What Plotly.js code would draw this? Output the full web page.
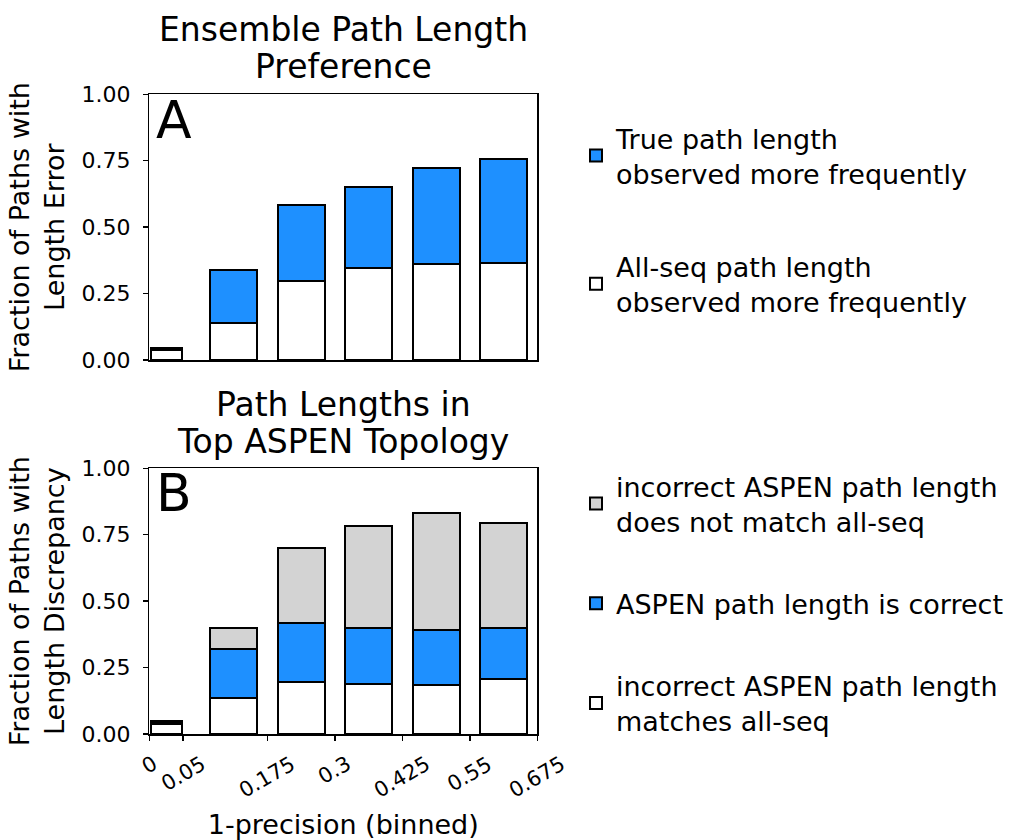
<!DOCTYPE html>
<html>
<head>
<meta charset="utf-8">
<script src="https://cdn.plot.ly/plotly-3.0.1.min.js"></script>
<style>html,body{margin:0;padding:0;background:#fff;}#chart{width:1014px;height:840px;}</style>
</head>
<body>
<div id="chart"></div>
<script>
// ---------------- data ----------------
const binLabels = ['0–0.05', '0.05–0.175', '0.175–0.3', '0.3–0.425', '0.425–0.55', '0.55–0.675'];
const edgeTickLabels = ['0', '0.05', '0.175', '0.3', '0.425', '0.55', '0.675'];

// Panel A: Ensemble Path Length Preference
const allSeqMoreFrequent = [0.038, 0.138, 0.297, 0.345, 0.362, 0.366];
const trueMoreFrequent   = [0.009, 0.200, 0.287, 0.308, 0.362, 0.391];

// Panel B: Path Lengths in Top ASPEN Topology
const incorrectMatches    = [0.038, 0.135, 0.195, 0.188, 0.186, 0.207];
const aspenCorrect        = [0.006, 0.185, 0.222, 0.212, 0.207, 0.191];
const incorrectNoMatch    = [0.004, 0.080, 0.283, 0.384, 0.438, 0.397];

const yTickVals = [0, 0.25, 0.5, 0.75, 1.0];

// ---------------- layout geometry ----------------
// the first bin is drawn narrow, the others are evenly spaced
const tickPos = [0, 0.5, 1.75, 2.75, 3.75, 4.75, 5.75];
const barX = binLabels.map((_, i) => i === 0 ? 0.253 : i + 0.252);
const barW = binLabels.map((_, i) => i === 0 ? 0.455 : 0.70);

const FONT = 'DejaVu Sans, Arial, sans-serif';
const BLUE = '#1e90ff', GRAY = '#d3d3d3', WHITE = '#ffffff';
const outline = {color: '#000', width: 2};

function bars(y, name, color, xa, ya, legend, rank) {
  return {
    type: 'bar', x: barX, y: y, width: barW, name: name,
    customdata: binLabels,
    hovertemplate: '%{customdata}: %{y:.3f}<extra>' + name.replace(/<br>/g, ' ') + '</extra>',
    marker: {color: color, line: outline},
    xaxis: xa, yaxis: ya, legend: legend, legendgroup: 'g' + rank + legend, legendrank: rank
  };
}

const traces = [
  bars(allSeqMoreFrequent, 'All-seq path length<br>observed more frequently', WHITE, 'x', 'y', 'legend', 2),
  bars(trueMoreFrequent, 'True path length<br>observed more frequently', BLUE, 'x', 'y', 'legend', 1),
  bars(incorrectMatches, 'incorrect ASPEN path length<br>matches all-seq', WHITE, 'x2', 'y2', 'legend2', 3),
  bars(aspenCorrect, 'ASPEN path length is correct', BLUE, 'x2', 'y2', 'legend2', 2),
  bars(incorrectNoMatch, 'incorrect ASPEN path length<br>does not match all-seq', GRAY, 'x2', 'y2', 'legend2', 1)
];

const W = 1014, H = 840;
const px = v => v / W, py = v => 1 - v / H;

const axisCommon = {
  showline: true, linecolor: '#000', linewidth: 1.5, mirror: true,
  showgrid: false, zeroline: false, fixedrange: true
};
const yAxisCommon = Object.assign({}, axisCommon, {
  range: [0, 1.0], tickvals: yTickVals, tickformat: '.2f',
  ticks: 'outside', ticklen: 5, tickwidth: 1.5, tickcolor: '#000',
  ticklabelstandoff: 8,
  tickfont: {family: FONT, size: 22, color: '#000'}
});

const titleFont = {family: FONT, size: 33, color: '#000'};
const annotations = [
  {text: 'Ensemble Path Length', x: px(343), y: py(30), xref: 'paper', yref: 'paper', xanchor: 'center', yanchor: 'middle', showarrow: false, font: titleFont},
  {text: 'Preference', x: px(343), y: py(67), xref: 'paper', yref: 'paper', xanchor: 'center', yanchor: 'middle', showarrow: false, font: titleFont},
  {text: 'Path Lengths in', x: px(343), y: py(404), xref: 'paper', yref: 'paper', xanchor: 'center', yanchor: 'middle', showarrow: false, font: titleFont},
  {text: 'Top ASPEN Topology', x: px(343), y: py(441), xref: 'paper', yref: 'paper', xanchor: 'center', yanchor: 'middle', showarrow: false, font: titleFont},
  {text: 'A', x: 0.02, y: 0.985, yshift: 10, xshift: -3, xref: 'x domain', yref: 'y domain', xanchor: 'left', yanchor: 'top', showarrow: false, font: {family: FONT, size: 52, color: '#000'}},
  {text: 'B', x: 0.02, y: 0.985, yshift: 11, xshift: -3, xref: 'x2 domain', yref: 'y2 domain', xanchor: 'left', yanchor: 'top', showarrow: false, font: {family: FONT, size: 52, color: '#000'}}
];
// rotated x tick labels, centred under their ticks
edgeTickLabels.forEach((t, i) => {
  annotations.push({
    text: t, x: tickPos[i], xref: 'x2', y: py(749), yref: 'paper',
    xanchor: 'center', yanchor: 'top', textangle: -30, showarrow: false,
    font: {family: FONT, size: 21, color: '#000'}
  });
});

const layout = {
  width: W, height: H,
  margin: {l: 0, r: 0, t: 0, b: 0},
  paper_bgcolor: '#fff', plot_bgcolor: '#fff',
  barmode: 'stack',
  showlegend: true,
  font: {family: FONT, color: '#000'},
  xaxis: Object.assign({}, axisCommon, {
    domain: [px(149.3), px(537.3)], range: [0, 5.75], anchor: 'y',
    showticklabels: false, ticks: ''
  }),
  yaxis: Object.assign({}, yAxisCommon, {
    domain: [py(360), py(94.3)], anchor: 'x',
    title: {text: 'Fraction of Paths with<br>Length Error', font: {family: FONT, size: 27, color: '#000'}, standoff: 9}
  }),
  xaxis2: Object.assign({}, axisCommon, {
    domain: [px(149.3), px(537.3)], range: [0, 5.75], anchor: 'y2',
    tickvals: tickPos, showticklabels: false,
    ticks: 'outside', ticklen: 5, tickwidth: 1.5, tickcolor: '#000',
    title: {text: '1-precision (binned)', font: {family: FONT, size: 27, color: '#000'}, standoff: 75}
  }),
  yaxis2: Object.assign({}, yAxisCommon, {
    domain: [py(734), py(468.3)], anchor: 'x2',
    title: {text: 'Fraction of Paths with<br>Length Discrepancy', font: {family: FONT, size: 27, color: '#000'}, standoff: 9}
  }),
  legend: {
    x: px(576), y: py(114), xanchor: 'left', yanchor: 'top',
    traceorder: 'grouped', tracegroupgap: 55,
    font: {family: FONT, size: 27, color: '#000'}, bgcolor: 'rgba(0,0,0,0)'
  },
  legend2: {
    x: px(576), y: py(462), xanchor: 'left', yanchor: 'top',
    traceorder: 'grouped', tracegroupgap: 44,
    font: {family: FONT, size: 27, color: '#000'}, bgcolor: 'rgba(0,0,0,0)'
  },
  annotations: annotations
};

Plotly.newPlot('chart', traces, layout, {displayModeBar: false, staticPlot: true});
</script>
</body>
</html>
